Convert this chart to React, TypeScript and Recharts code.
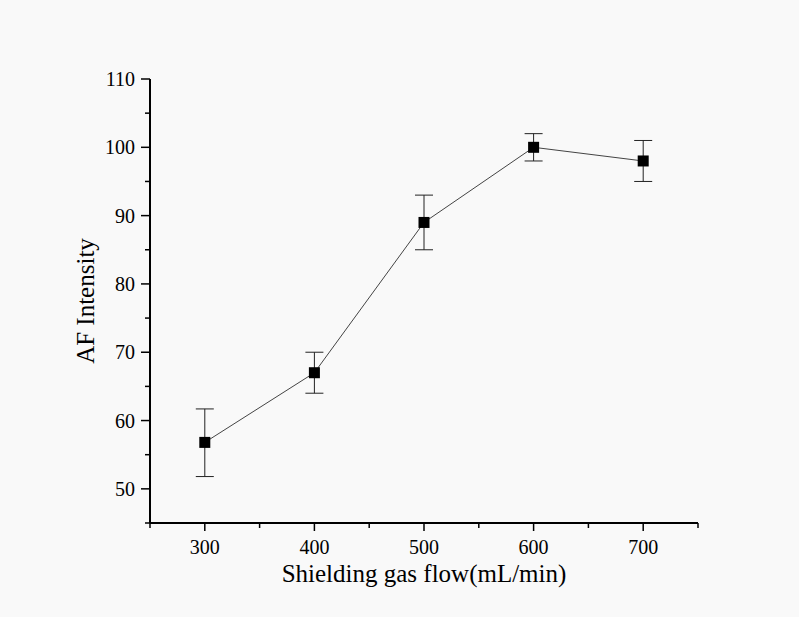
import React from 'react';
import { LineChart, Line, XAxis, YAxis, ErrorBar } from 'recharts';

const flows = [300, 400, 500, 600, 700];
const intensity = [56.8, 67, 89, 100, 98];
const errDown = [5, 3, 4, 2, 3];
const errUp = [4.9, 3, 4, 2, 3];

const xTicks = [250, 300, 350, 400, 450, 500, 550, 600, 650, 700, 750];
const xLabelTicks = [300, 400, 500, 600, 700];
const yTicks = [45, 50, 55, 60, 65, 70, 75, 80, 85, 90, 95, 100, 105, 110];
const yLabelTicks = [50, 60, 70, 80, 90, 100, 110];

const xTitle = 'Shielding gas flow(mL/min)';
const yTitle = 'AF Intensity';

const data = flows.map((f, i) => ({
  flow: f,
  value: intensity[i],
  err: [errDown[i], errUp[i]],
}));

const FONT = '"Liberation Serif", "Times New Roman", serif';

const XTick = (props: any) => {
  const { x, y, payload } = props;
  const major = xLabelTicks.includes(payload.value);
  return (
    <g>
      <line x1={x} x2={x} y1={y} y2={y + (major ? 8 : 5)} stroke="#000" strokeWidth={1.5} />
      {major && (
        <text x={x} y={y + 31} textAnchor="middle" fontFamily={FONT} fontSize={20} fill="#000">
          {payload.value}
        </text>
      )}
    </g>
  );
};

const YTick = (props: any) => {
  const { x, y, payload } = props;
  const major = yLabelTicks.includes(payload.value);
  return (
    <g>
      <line x1={x - (major ? 9 : 5)} x2={x} y1={y} y2={y} stroke="#000" strokeWidth={1.5} />
      {major && (
        <text x={x - 15} y={y + 7} textAnchor="end" fontFamily={FONT} fontSize={20} fill="#000">
          {payload.value}
        </text>
      )}
    </g>
  );
};

const SquareDot = (props: any) => {
  const { cx, cy, index } = props;
  return <rect key={`d${index}`} x={cx - 5.5} y={cy - 5.5} width={11} height={11} fill="#000" />;
};

export default function App() {
  return (
    <div style={{ position: 'absolute', left: 0, top: 0, width: 799, height: 617, background: '#f9f9f9' }}>
      <LineChart width={799} height={617} data={data} margin={{ top: 79, right: 101, bottom: 24, left: 0 }}>
        <XAxis
          dataKey="flow"
          type="number"
          domain={[250, 750]}
          ticks={xTicks}
          interval={0}
          height={70}
          tickSize={0}
          tickMargin={0}
          tickLine={false}
          tick={<XTick />}
          axisLine={{ stroke: '#000', strokeWidth: 2 }}
          label={{
            content: (p: any) => (
              <text
                x={p.viewBox.x + p.viewBox.width / 2}
                y={p.viewBox.y + 59}
                textAnchor="middle"
                fontFamily={FONT}
                fontSize={25}
                fill="#000"
              >
                {xTitle}
              </text>
            ),
          }}
        />
        <YAxis
          type="number"
          domain={[45, 110]}
          ticks={yTicks}
          interval={0}
          width={150}
          tickSize={0}
          tickMargin={0}
          tickLine={false}
          tick={<YTick />}
          axisLine={{ stroke: '#000', strokeWidth: 2 }}
          label={{
            content: (p: any) => {
              const cx = 94;
              const cy = p.viewBox.y + p.viewBox.height / 2;
              return (
                <text
                  x={cx}
                  y={cy}
                  transform={`rotate(-90 ${cx} ${cy})`}
                  textAnchor="middle"
                  fontFamily={FONT}
                  fontSize={25}
                  fill="#000"
                >
                  {yTitle}
                </text>
              );
            },
          }}
        />
        <Line
          type="linear"
          dataKey="value"
          stroke="#444"
          strokeWidth={1}
          dot={<SquareDot />}
          activeDot={false}
          isAnimationActive={false}
        >
          <ErrorBar dataKey="err" width={9} strokeWidth={1} stroke="#222" direction="y" isAnimationActive={false} />
        </Line>
      </LineChart>
    </div>
  );
}
